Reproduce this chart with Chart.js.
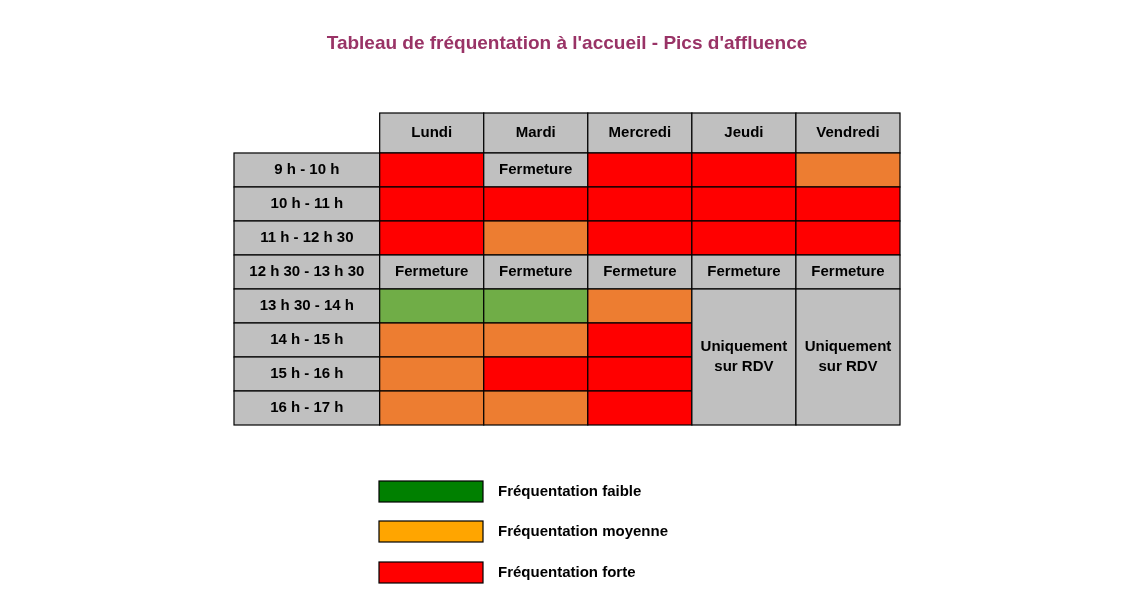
<!DOCTYPE html>
<html><head><meta charset="utf-8">
<script src="https://cdn.jsdelivr.net/npm/chart.js@4/dist/chart.umd.min.js"></script>
<style>html,body{margin:0;padding:0;background:#fff}#w{width:1140px;height:600px}</style>
</head><body><div id="w"><canvas id="c"></canvas></div>
<script>
const title = "Tableau de fréquentation à l'accueil - Pics d'affluence";
const days = ['Lundi','Mardi','Mercredi','Jeudi','Vendredi'];
const slots = ['9 h - 10 h','10 h - 11 h','11 h - 12 h 30','12 h 30 - 13 h 30','13 h 30 - 14 h','14 h - 15 h','15 h - 16 h','16 h - 17 h'];
// F=forte, M=moyenne, L=faible, X=Fermeture, R=Uniquement sur RDV
const lundi    = ['F','F','F','X','L','M','M','M'];
const mardi    = ['X','F','M','X','L','M','F','M'];
const mercredi = ['F','F','F','X','M','F','F','F'];
const jeudi    = ['F','F','F','X','R','R','R','R'];
const vendredi = ['M','F','F','X','R','R','R','R'];
const grid = [lundi,mardi,mercredi,jeudi,vendredi];
const legendLabels = ['Fréquentation faible','Fréquentation moyenne','Fréquentation forte'];
const cellColors = {F:'#FF0000',M:'#ED7D31',L:'#70AD47',X:'#C0C0C0',R:'#C0C0C0'};
const legendColors = ['#008000','#FFA500','#FF0000'];

const HW = 1.4, HH = 1.176; // header width/height in cell units
const font = 'bold 15px "Liberation Sans", Arial, sans-serif';

const tablePlugin = {
  id:'table',
  afterDraw(chart){
    const ctx = chart.ctx, xs = chart.scales.x, ys = chart.scales.y;
    const X = v=>xs.getPixelForValue(v), Y = v=>ys.getPixelForValue(v);
    ctx.save();
    ctx.font = font; ctx.textAlign='center'; ctx.textBaseline='middle';
    ctx.lineWidth = 1.2; ctx.strokeStyle='#000';
    function cell(x0,y0,x1,y1,fill,lines){
      const a=X(x0),b=X(x1),t=Y(y0),u=Y(y1);
      ctx.fillStyle=fill; ctx.fillRect(a,t,b-a,u-t);
      ctx.strokeRect(a,t,b-a,u-t);
      if(lines){ctx.fillStyle='#000';const cx=(a+b)/2, cy=(t+u)/2;
        lines.forEach((s,i)=>ctx.fillText(s,cx,cy+(i-(lines.length-1)/2)*20));}
    }
    days.forEach((d,i)=>cell(HW+i,0,HW+i+1,HH,'#C0C0C0',[d]));
    slots.forEach((s,j)=>cell(0,HH+j,HW,HH+j+1,'#C0C0C0',[s]));
    grid.forEach((col,i)=>{
      let j=0;
      while(j<col.length){
        const v=col[j];
        if(v==='R'){let k=j;while(k<col.length&&col[k]==='R')k++;
          cell(HW+i,HH+j,HW+i+1,HH+k,cellColors.R,['Uniquement','sur RDV']);j=k;continue;}
        cell(HW+i,HH+j,HW+i+1,HH+j+1,cellColors[v],v==='X'?['Fermeture']:null);j++;
      }
    });
    // legend
    const ly=[481,521,562];
    legendLabels.forEach((l,i)=>{
      ctx.fillStyle=legendColors[i]; ctx.fillRect(379,ly[i],104,21); ctx.strokeRect(379,ly[i],104,21);
      ctx.fillStyle='#000'; ctx.textAlign='left'; ctx.fillText(l,498,ly[i]+11);
    });
    ctx.textAlign='center'; ctx.fillStyle='#993366'; ctx.font='bold 19px "Liberation Sans", Arial, sans-serif';
    ctx.fillText(title,567,44);
    ctx.restore();
  }
};

new Chart(document.getElementById('c'),{
  type:'scatter',
  data:{datasets:[{data:[]}]},
  options:{responsive:true,maintainAspectRatio:false,animation:false,
    layout:{padding:{left:234,right:240,top:113,bottom:175}},
    plugins:{legend:{display:false},tooltip:{enabled:false}},
    scales:{x:{type:'linear',min:0,max:HW+days.length,display:false},
            y:{type:'linear',min:0,max:HH+slots.length,reverse:true,display:false}}},
  plugins:[tablePlugin]
});
</script></body></html>
